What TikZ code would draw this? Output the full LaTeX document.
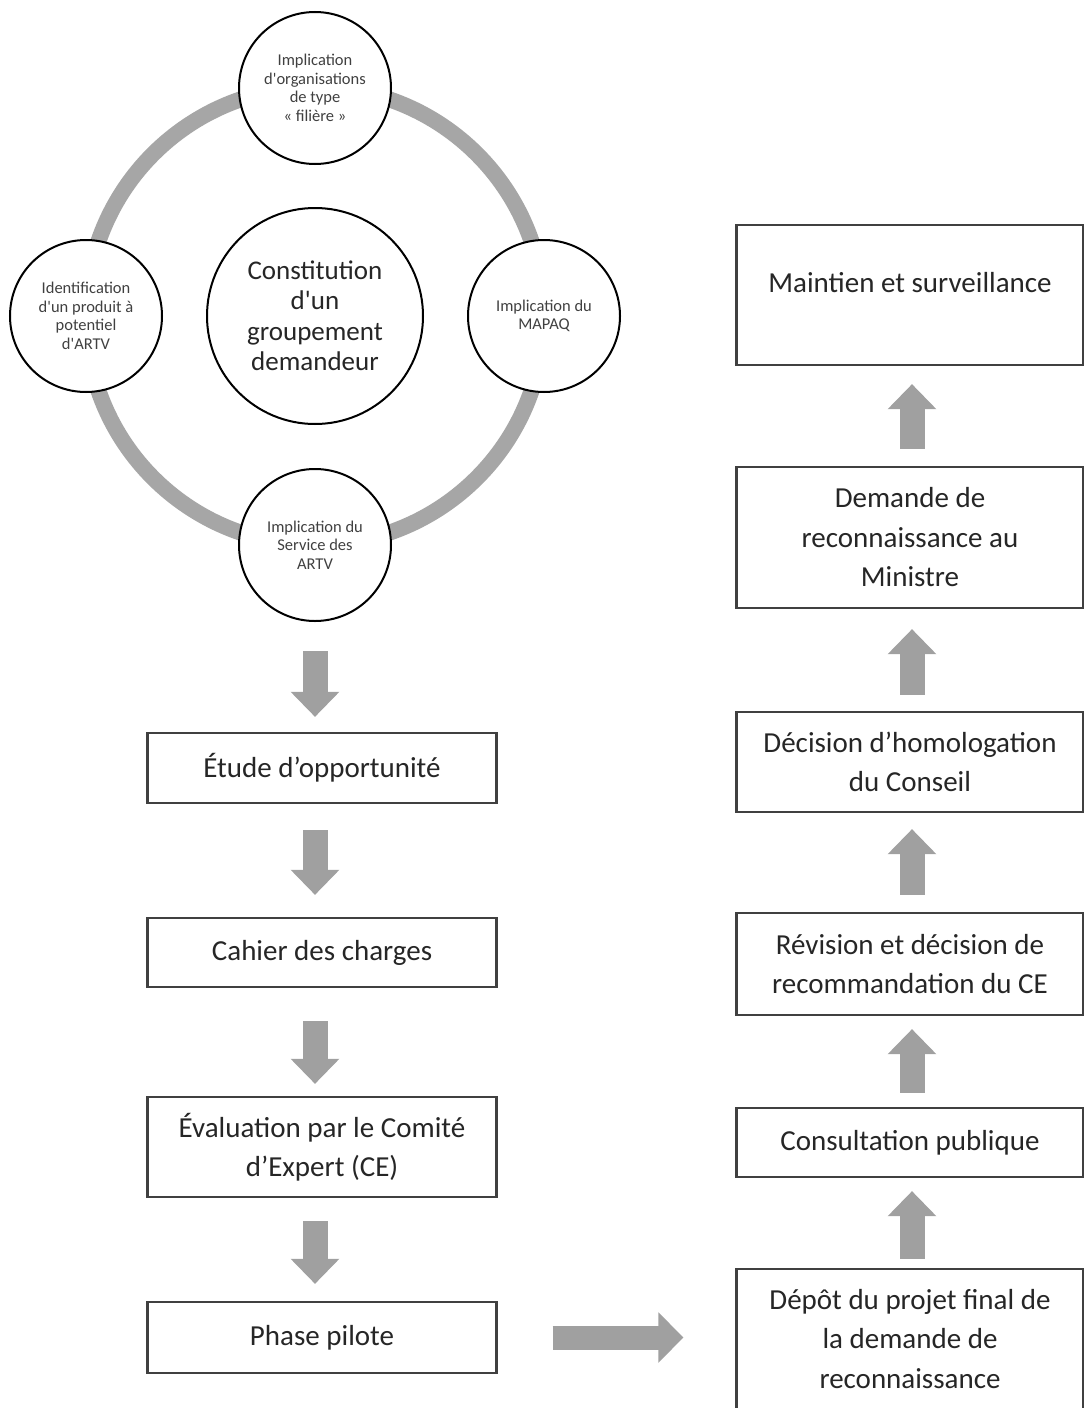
\documentclass[tikz,border=0pt]{standalone}
\usepackage{fontspec}
\setmainfont{Carlito}
\newfontfamily\circfont{Carlito}[Ligatures=TeXOff]
\usetikzlibrary{arrows.meta}
\definecolor{ringgray}{HTML}{A6A6A6}
\definecolor{arrgray}{HTML}{A0A0A0}
\definecolor{boxline}{HTML}{404040}
\definecolor{txt}{HTML}{262626}
\definecolor{ctxt}{HTML}{404040}
\begin{document}
\begin{tikzpicture}[x=1pt,y=-1pt,
  smallc/.style={circle, draw=black, line width=2pt, fill=white, minimum size=152pt, inner sep=0pt, align=center, font=\circfont\fontsize{16.5}{18.5}\selectfont, text=ctxt},
  bigc/.style={circle, draw=black, line width=2pt, fill=white, minimum size=216pt, inner sep=0pt, align=center, font=\circfont\fontsize{27}{30.5}\selectfont, text=txt},
  box/.style={draw=boxline, line width=2.2pt, fill=white, minimum width=349pt, align=center, inner sep=0pt, font=\fontsize{29}{39.5}\selectfont, text=txt},
  rbox/.style={box, minimum width=347pt},
  flow/.style={line width=25pt, draw=arrgray, -{Triangle[width=47pt,length=25pt]}},
]
\useasboundingbox (0,0) rectangle (1084,1408);
\fill[white] (0,0) rectangle (1084,1408);

% ring
\coordinate (ctr) at (315,316);
\draw[ringgray, line width=16pt] (ctr) circle (229pt);

% circles
\node[bigc] (mid) at (ctr) {Constitution\\d'un\\groupement\\demandeur};
\node[smallc] (top) at (315,88) {Implication\\d'organisations\\de type\\«~filière~»};
\node[smallc] (lft) at (86,316) {Identification\\d'un produit à\\potentiel\\d'ARTV};
\node[smallc] (rgt) at (544,316) {Implication du\\MAPAQ};
\node[smallc] (bot) at (315,545) {Implication du\\Service des\\ARTV};

% left column
\node[box, minimum height=70pt] (b1) at (322,768) {Étude d’opportunité};
\node[box, minimum height=69pt] (b2) at (322,952.5) {Cahier des charges};
\node[box, minimum height=100pt] (b3) at (322,1147) {Évaluation par le Comité\\d’Expert (CE)};
\node[box, minimum height=71pt] (b4) at (322,1337.5) {Phase pilote};

% right column
\node[rbox, minimum height=140pt] (r1) at (910,1339) {Dépôt du projet final de\\la demande de\\reconnaissance};
\node[rbox, minimum height=69pt] (r2) at (910,1142.5) {Consultation publique};
\node[rbox, minimum height=102pt] (r3) at (910,964) {Révision et décision de\\recommandation du CE};
\node[rbox, minimum height=100pt] (r4) at (910,762) {Décision d’homologation\\du Conseil};
\node[rbox, minimum height=141pt] (r5) at (910,537.5) {Demande de\\reconnaissance au\\Ministre};
\node[rbox, minimum height=140pt, text height=21pt, text depth=26pt] (r6) at (910,295) {Maintien et surveillance};

% left arrows (down)
\draw[flow, shorten <=29pt, shorten >=15pt] (bot.south) -- (bot.south |- b1.north);
\draw[flow, shorten <=26pt, shorten >=22pt] (b1.south -| bot.south) -- (b2.north -| bot.south);
\draw[flow, shorten <=33pt, shorten >=12pt] (b2.south -| bot.south) -- (b3.north -| bot.south);
\draw[flow, shorten <=23pt, shorten >=17pt] (b3.south -| bot.south) -- (b4.north -| bot.south);

% horizontal arrow
\draw[flow, line width=24pt, -{Triangle[width=49pt,length=25pt]}, shorten <=55pt, shorten >=52pt] (b4.east) -- (b4.east -| r1.west);

% right arrows (up)
\draw[flow, shorten <=9pt, shorten >=13pt] ([xshift=2pt]r1.north) -- ([xshift=2pt]r2.south);
\draw[flow, shorten <=14pt, shorten >=13pt] ([xshift=2pt]r2.north) -- ([xshift=2pt]r3.south);
\draw[flow, shorten <=17pt, shorten >=16pt] ([xshift=2pt]r3.north) -- ([xshift=2pt]r4.south);
\draw[flow, shorten <=16pt, shorten >=20pt] ([xshift=2pt]r4.north) -- ([xshift=2pt]r5.south);
\draw[flow, shorten <=17pt, shorten >=18pt] ([xshift=2pt]r5.north) -- ([xshift=2pt]r6.south);
\end{tikzpicture}
\end{document}
